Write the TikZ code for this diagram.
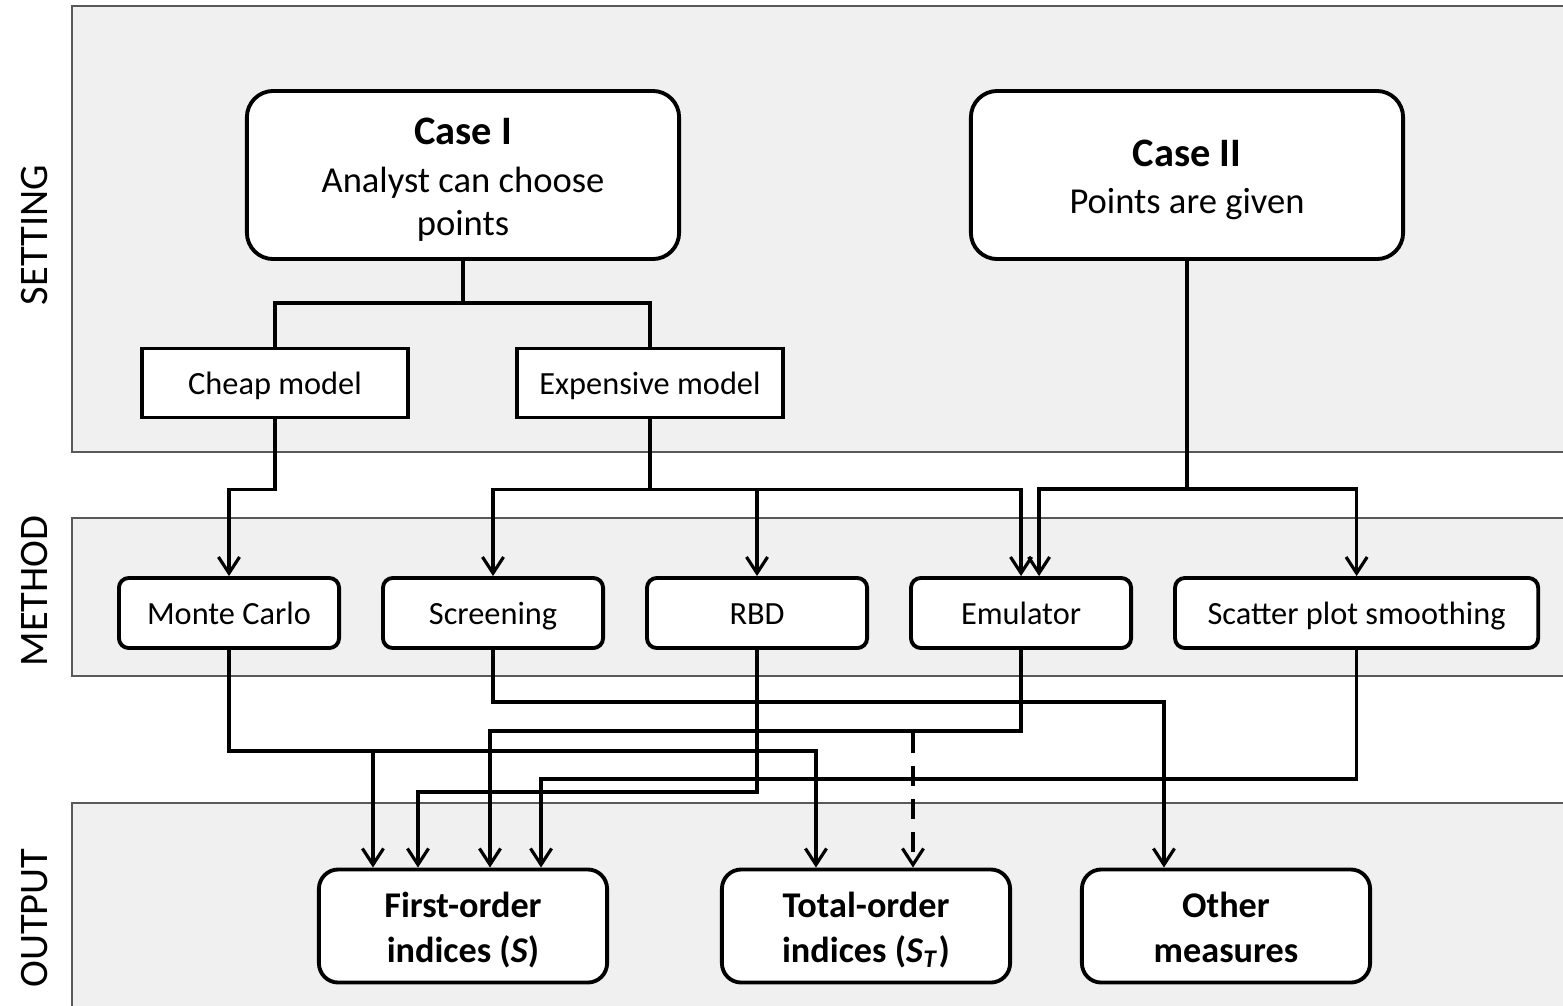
\documentclass[tikz,border=0pt]{standalone}
\usepackage{fontspec}
\setmainfont{Carlito}
\usetikzlibrary{positioning, arrows.meta}

\newcommand{\casetop}{\rule{0pt}{11.3pt}}
\newcommand{\casebot}{\rule[-2.8pt]{0pt}{2.8pt}}
\newcommand{\outtop}{\rule{0pt}{9.9pt}}
\newcommand{\outbot}{\rule[-2pt]{0pt}{2pt}}

\begin{document}
\begin{tikzpicture}[x=0.01cm, y=-0.01cm,
  band/.style={draw=black!65, line width=0.6pt, fill=black!6},
  case node/.style={draw, line width=1.1pt, rounded corners=7.5pt, fill=white, inner sep=0pt,
    minimum width=4.32cm, minimum height=1.68cm, align=center, font=\fontsize{10.4}{12.2}\selectfont},
  model node/.style={draw, line width=1.1pt, fill=white, inner sep=0pt, text height=6.8pt, text depth=0.2pt,
    minimum width=2.65cm, minimum height=0.69cm, font=\fontsize{9.2}{11}\selectfont},
  method node/.style={draw, line width=1.1pt, rounded corners=2.8pt, fill=white, inner sep=0pt, text height=6.8pt, text depth=0.2pt,
    minimum width=2.2cm, minimum height=0.7cm, font=\fontsize{9.2}{11}\selectfont},
  out node/.style={draw, line width=1.1pt, rounded corners=5.5pt, fill=white, inner sep=0pt,
    minimum width=2.88cm, minimum height=1.13cm, align=center, font=\fontsize{10.3}{12.8}\selectfont\bfseries},
  side label/.style={rotate=90, font=\fontsize{11.5}{13}\selectfont},
  link/.style={line width=0.9pt},
  arr/.style={line width=0.9pt, -{Straight Barb[length=4.6pt, width=6pt]}}]

\clip (0,0) rectangle (1563,1005);

\draw[band] (72,6) rectangle (1600,452);
\draw[band] (72,518) rectangle (1600,676);
\draw[band] (72,803) rectangle (1600,1040);

\node[side label] (setting) at (35,235) {SETTING};
\node[side label] (method) at (35,591) {METHOD};
\node[side label] (output) at (35,918) {OUTPUT};

\node[case node] (case1) at (463,175) {\casetop{\fontsize{11.5}{13}\selectfont\bfseries Case I}\\[1.4pt]Analyst can choose\\points\casebot};
\node[case node] (case2) at (1187,175) {\casetop{\fontsize{11.5}{13}\selectfont\bfseries Case II}\\[1.4pt]Points are given\casebot};

\node[model node] (cheap) at (275,383) {Cheap model};
\node[model node] (expens) at (650,383) {Expensive model};

\node[method node] (mc) at (229,613) {Monte Carlo};
\node[method node, right=0.40cm of mc] (screen) {Screening};
\node[method node, right=0.40cm of screen] (rbd) {RBD};
\node[method node, right=0.40cm of rbd] (emul) {Emulator};
\node[method node, right=0.40cm of emul, minimum width=3.63cm] (scatter) {Scatter plot smoothing};

\node[out node] (first) at (463,926) {\outtop First-order\\indices (\textit{S})\outbot};
\node[out node] (total) at (866,926) {\outtop Total-order\\indices (\textit{S}\textsubscript{\textit{T}})\outbot};
\node[out node] (other) at (1226,926) {\outtop Other\\measures\outbot};

\draw[link] (case1.south) -- ++(0,42) -| (cheap.north);
\draw[link] (case1.south) ++(0,42) -| (expens.north);

\draw[arr] (cheap.south) -- ++(0,70) -| (mc.north);
\draw[arr] (expens.south) -- ++(0,70) -| (screen.north);
\draw[arr] (expens.south) -- ++(0,70) -| (rbd.north);
\draw[arr] (expens.south) -- ++(0,70) -| (emul.north);
\draw[arr] (case2.south) -- ++(0,228) -| ([xshift=0.18cm]emul.north);
\draw[arr] (case2.south) -- ++(0,228) -| (scatter.north);

\draw[arr] (mc.south) -- ++(0,101) -| ([xshift=-0.9cm]first.north);
\draw[arr] (mc.south) -- ++(0,101) -| ([xshift=-0.5cm]total.north);
\draw[arr] (screen.south) -- ++(0,52) -| ([xshift=-0.62cm]other.north);
\draw[arr] (emul.south) -- ++(0,81) -| ([xshift=0.27cm]first.north);
\draw[arr] (rbd.south) -- ++(0,142) -| ([xshift=-0.45cm]first.north);
\draw[arr] (scatter.south) -- ++(0,129) -| ([xshift=0.78cm]first.north);

\coordinate (tap) at (913,733);
\draw[arr, dash pattern=on 5.7pt off 3.7pt] (tap) -- (tap |- total.north);
\end{tikzpicture}
\end{document}
